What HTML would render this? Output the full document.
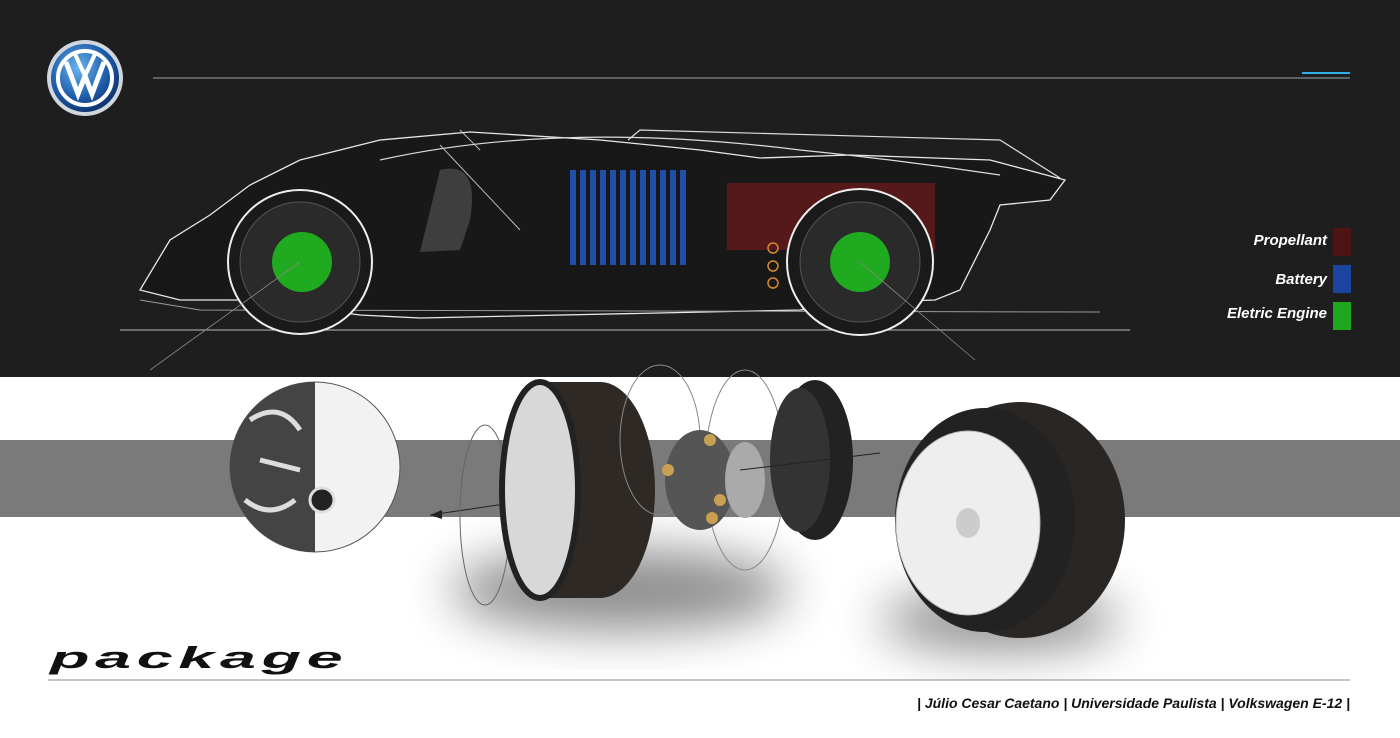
<!DOCTYPE html>
<html><head><meta charset="utf-8"><style>
html,body{margin:0;padding:0;width:1400px;height:738px;overflow:hidden;background:#fff}
svg{display:block}
text{font-family:"Liberation Sans",sans-serif}
</style></head><body>
<svg width="1400" height="738" viewBox="0 0 1400 738" xmlns="http://www.w3.org/2000/svg">
<defs>
<radialGradient id="vw" cx="0.4" cy="0.35" r="0.7"><stop offset="0" stop-color="#6ab4ee"/><stop offset="0.6" stop-color="#1f5fae"/><stop offset="1" stop-color="#0c2f66"/></radialGradient>
<filter id="bl" x="-50%" y="-50%" width="200%" height="200%"><feGaussianBlur stdDeviation="25"/></filter>
</defs>
<rect x="0" y="0" width="1400" height="377" fill="#1e1e1e"/>
<circle cx="85" cy="78" r="38" fill="#cfd6de"/>
<circle cx="85" cy="78" r="34" fill="url(#vw)"/>
<circle cx="85" cy="78" r="27" fill="none" stroke="#fff" stroke-width="4"/>
<path d="M66 62 L78 94 L85 76 L92 94 L104 62" fill="none" stroke="#fff" stroke-width="5"/>
<path d="M75 54 L85 76 L95 54" fill="none" stroke="#fff" stroke-width="4"/>
<line x1="153" y1="78" x2="1350" y2="78" stroke="#9aa4ad" stroke-width="1"/>
<line x1="1302" y1="73" x2="1350" y2="73" stroke="#2fb0e8" stroke-width="2"/>
<path d="M140 290 L170 240 L210 215 L250 185 L300 160 L380 140 L470 132 L600 140 L700 150 L760 158 L850 155 L990 160 L1065 180 L1050 200 L1000 205 L990 230 L960 290 L935 300 L870 302 L800 310 L420 318 L360 315 L250 300 L180 300 Z" fill="#0e0e0e" fill-opacity="0.35" stroke="#e8e8e8" stroke-width="1.3"/>
<path d="M380 160 Q560 120 800 150 Q900 160 1000 175" fill="none" stroke="#ddd" stroke-width="1.2"/>
<path d="M628 140 L640 130 L1000 140 L1060 178" fill="none" stroke="#ddd" stroke-width="1.2"/>
<path d="M440 145 L520 230 M460 130 L480 150" fill="none" stroke="#bbb" stroke-width="1"/>
<path d="M120 330 L1130 330" stroke="#bbb" stroke-width="1"/>
<path d="M140 300 L200 310 L1100 312" fill="none" stroke="#999" stroke-width="1"/>
<path d="M440 170 Q480 160 470 220 L460 250 L420 252 Z" fill="#777" opacity="0.4"/>
<g fill="#1f4fa8">
<rect x="570" y="170" width="6" height="95"/><rect x="580" y="170" width="6" height="95"/><rect x="590" y="170" width="6" height="95"/><rect x="600" y="170" width="6" height="95"/><rect x="610" y="170" width="6" height="95"/><rect x="620" y="170" width="6" height="95"/><rect x="630" y="170" width="6" height="95"/><rect x="640" y="170" width="6" height="95"/><rect x="650" y="170" width="6" height="95"/><rect x="660" y="170" width="6" height="95"/><rect x="670" y="170" width="6" height="95"/><rect x="680" y="170" width="6" height="95"/>
</g>
<rect x="727" y="183" width="208" height="67" fill="#6a1a1a" opacity="0.75"/>
<circle cx="300" cy="262" r="72" fill="#1a1a1a" stroke="#eee" stroke-width="2"/>
<circle cx="300" cy="262" r="60" fill="#2a2a2a" stroke="#555"/>
<circle cx="302" cy="262" r="30" fill="#1faa1f"/>
<circle cx="860" cy="262" r="73" fill="#1a1a1a" stroke="#eee" stroke-width="2"/>
<circle cx="860" cy="262" r="60" fill="#2a2a2a" stroke="#555"/>
<circle cx="860" cy="262" r="30" fill="#1faa1f"/>
<circle cx="773" cy="248" r="5" fill="none" stroke="#d88a2a" stroke-width="1.5"/>
<circle cx="773" cy="266" r="5" fill="none" stroke="#d88a2a" stroke-width="1.5"/>
<circle cx="773" cy="283" r="5" fill="none" stroke="#d88a2a" stroke-width="1.5"/>
<line x1="150" y1="370" x2="300" y2="262" stroke="#888" stroke-width="0.8"/>
<line x1="860" y1="262" x2="975" y2="360" stroke="#888" stroke-width="0.8"/>
<g font-weight="bold" font-style="italic" font-size="15" fill="#fff" text-anchor="end">
<text x="1327" y="245">Propellant</text>
<text x="1327" y="284">Battery</text>
<text x="1327" y="318">Eletric Engine</text>
</g>
<rect x="1333" y="228" width="18" height="28" fill="#4e1414"/>
<rect x="1333" y="265" width="18" height="28" fill="#1b43a0"/>
<rect x="1333" y="302" width="18" height="28" fill="#1fa61f"/>
<rect x="0" y="440" width="1400" height="77" fill="#7a7a7a"/>
<ellipse cx="620" cy="590" rx="170" ry="40" fill="#000" opacity="0.45" filter="url(#bl)"/>
<ellipse cx="1000" cy="620" rx="120" ry="30" fill="#000" opacity="0.45" filter="url(#bl)"/>
<circle cx="315" cy="467" r="85" fill="#f2f2f2" stroke="#555" stroke-width="1"/>
<path d="M315 382 A85 85 0 0 0 315 552 Z" fill="#444"/>
<path d="M250 420 Q280 400 300 430 M245 500 Q270 520 295 500 M260 460 L300 470" stroke="#ddd" stroke-width="5" fill="none"/>
<circle cx="322" cy="500" r="12" fill="#222" stroke="#ddd" stroke-width="3"/>
<line x1="600" y1="490" x2="430" y2="515" stroke="#222" stroke-width="1"/>
<polygon points="430,515 442,510 442,519" fill="#222"/>
<ellipse cx="485" cy="515" rx="25" ry="90" fill="none" stroke="#666"/>
<ellipse cx="600" cy="490" rx="55" ry="108" fill="#2e2924"/>
<rect x="540" y="382" width="60" height="216" fill="#2e2924"/>
<ellipse cx="540" cy="490" rx="38" ry="108" fill="#d8d8d8" stroke="#222" stroke-width="6"/>
<ellipse cx="660" cy="440" rx="40" ry="75" fill="none" stroke="#888"/>
<ellipse cx="745" cy="470" rx="40" ry="100" fill="none" stroke="#888"/>
<ellipse cx="700" cy="480" rx="35" ry="50" fill="#555"/>
<circle cx="710" cy="440" r="6" fill="#c9a050"/><circle cx="668" cy="470" r="6" fill="#c9a050"/><circle cx="720" cy="500" r="6" fill="#c9a050"/><circle cx="712" cy="518" r="6" fill="#c9a050"/>
<ellipse cx="745" cy="480" rx="20" ry="38" fill="#aaa"/>
<ellipse cx="815" cy="460" rx="38" ry="80" fill="#222"/>
<ellipse cx="800" cy="460" rx="30" ry="72" fill="#333"/>
<line x1="740" y1="470" x2="880" y2="453" stroke="#222"/>
<ellipse cx="1020" cy="520" rx="105" ry="118" fill="#2a2624"/>
<ellipse cx="985" cy="520" rx="90" ry="112" fill="#222"/>
<ellipse cx="968" cy="523" rx="72" ry="92" fill="#eee" stroke="#bbb"/>
<ellipse cx="968" cy="523" rx="12" ry="15" fill="#ccc"/>
<text font-size="34" font-style="italic" font-weight="bold" fill="#111" letter-spacing="3" transform="translate(50,668) scale(1.9,0.9)">package</text>
<line x1="48" y1="680" x2="1350" y2="680" stroke="#888" stroke-width="1"/>
<text x="1350" y="708" font-size="14" font-weight="bold" font-style="italic" fill="#111" text-anchor="end">| Júlio Cesar Caetano | Universidade Paulista | Volkswagen E-12 |</text>
</svg>
</body></html>
